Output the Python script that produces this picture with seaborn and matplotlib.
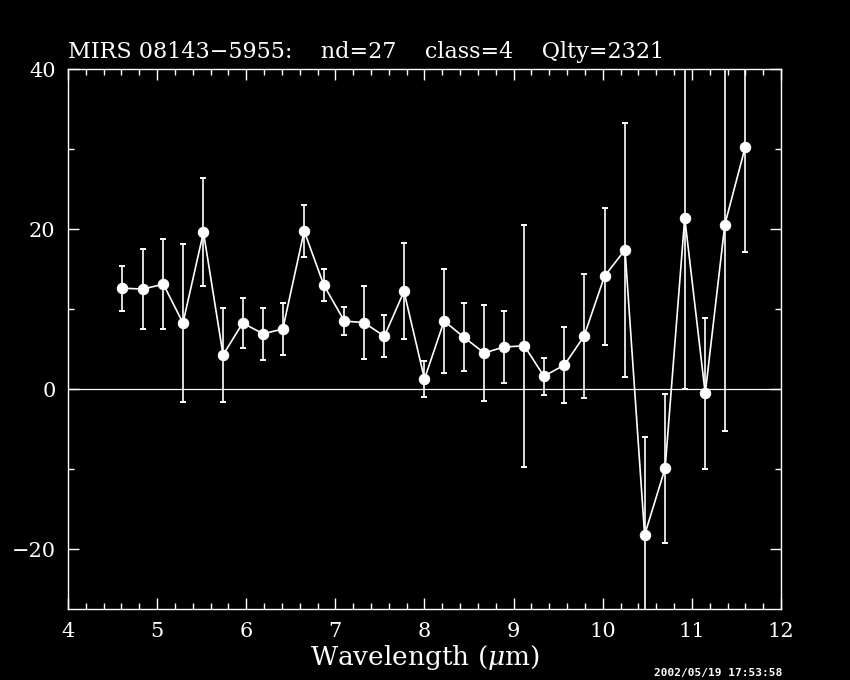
import numpy as np
import pandas as pd
import matplotlib
matplotlib.use("Agg")
import matplotlib.pyplot as plt
import seaborn as sns
from matplotlib.ticker import MultipleLocator

# values
wavelength = [4.61, 4.84, 5.07, 5.29, 5.52, 5.74, 5.96, 6.19, 6.41, 6.65,
              6.87, 7.10, 7.32, 7.55, 7.77, 8.00, 8.22, 8.44, 8.67, 8.89,
              9.12, 9.34, 9.57, 9.79, 10.02, 10.25, 10.47, 10.70, 10.92, 11.15,
              11.37, 11.60]
flux = [12.6, 12.5, 13.1, 8.25, 19.6, 4.25, 8.25, 6.9, 7.5, 19.75,
        13.0, 8.5, 8.3, 6.6, 12.2, 1.25, 8.5, 6.5, 4.5, 5.25,
        5.4, 1.6, 3.0, 6.6, 14.1, 17.4, -18.25, -9.9, 21.4, -0.56,
        20.55, 30.3]
flux_err = [2.8, 5.0, 5.6, 9.9, 6.75, 5.9, 3.1, 3.25, 3.25, 3.3,
            2.05, 1.8, 4.6, 2.6, 6.0, 2.3, 6.45, 4.2, 6.0, 4.45,
            15.1, 2.3, 4.7, 7.75, 8.55, 15.85, 12.2, 9.3, 21.4, 9.45,
            25.75, 13.2]

title_text = "MIRS 08143\u22125955:    nd=27    class=4    Qlty=2321"
stamp_text = "2002/05/19 17:53:58"

df = pd.DataFrame({"Wavelength": wavelength, "Flux": flux, "Err": flux_err})

sns.set_style("dark")
plt.rcParams.update({
    "figure.facecolor": "black",
    "axes.facecolor": "black",
    "axes.edgecolor": "white",
    "text.color": "white",
    "xtick.color": "white",
    "ytick.color": "white",
    "mathtext.fontset": "dejavuserif",
})
plt.rcParams["font.family"] = ["DejaVu Serif"]

fig = plt.figure(figsize=(8.5, 6.8), dpi=100)
ax = fig.add_axes([0.08, 0.1044, 0.8388, 0.7941])

ax.axhline(0, color="white", lw=0.9, zorder=1)
ax.errorbar(df["Wavelength"], df["Flux"], yerr=df["Err"], fmt="none",
            ecolor="white", elinewidth=1.2, capsize=2.5, capthick=1.4, zorder=2)
sns.lineplot(data=df, x="Wavelength", y="Flux", ax=ax, color="white",
             lw=1.2, marker="o", markersize=7.5, markeredgecolor="white",
             markerfacecolor="white", zorder=3)

ax.set_xlim(4, 12)
ax.set_ylim(-27.5, 40)
ax.xaxis.set_major_locator(MultipleLocator(1))
ax.xaxis.set_minor_locator(MultipleLocator(0.2))
ax.yaxis.set_major_locator(MultipleLocator(20))
ax.yaxis.set_minor_locator(MultipleLocator(10))
ax.tick_params(which="both", direction="in", top=True, right=True,
               bottom=True, left=True, colors="white")
ax.tick_params(which="major", length=8, width=1, labelsize=15, pad=9)
ax.tick_params(which="minor", length=4.5, width=1)
for sp in ax.spines.values():
    sp.set_color("white")
    sp.set_linewidth(1)
ax.grid(False)

ax.set_xlabel(r"Wavelength ($\mu$m)", fontsize=19, color="white", labelpad=2)
ax.set_ylabel("")
ax.set_title(title_text, loc="left", fontsize=16, color="white", pad=8)

# plot timestamp, bottom right
fig.text(0.77, 0.003, stamp_text, fontsize=8, color="white", va="bottom",
         family="DejaVu Sans Mono", fontweight="bold")

fig.savefig("out.png", dpi=100, facecolor="black")
